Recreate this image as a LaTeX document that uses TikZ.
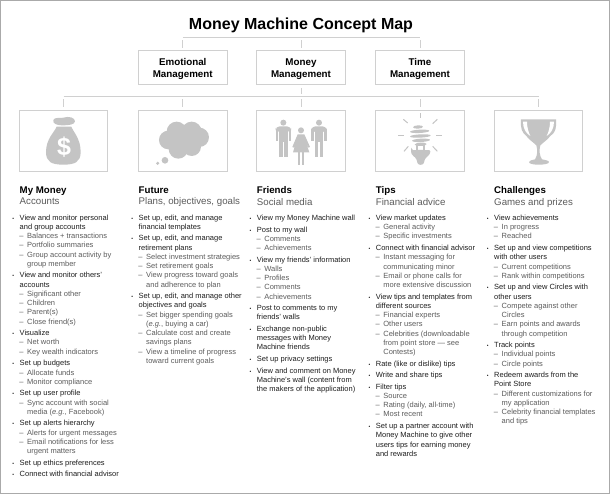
\documentclass[tikz,border=0pt]{standalone}
\usepackage{fontspec}
\setmainfont{Liberation Sans}
\definecolor{framegray}{RGB}{170,170,170}
\definecolor{linegray}{RGB}{208,208,208}
\definecolor{icongray}{RGB}{196,196,196}
\definecolor{subgray}{RGB}{92,92,92}
\definecolor{itemblack}{RGB}{30,30,30}
\usetikzlibrary{calc, positioning}

\newcommand{\heading}[2]{\fontsize{9.7}{11.3}\selectfont\textbf{#1}\\\color{subgray}#2\par\vspace{3.7pt}}
\newcommand{\mainline}[1]{\par\addvspace{2.3pt}\fontsize{7.5}{9.25}\selectfont\leftskip=0pt\color{itemblack}%
  \leavevmode\llap{{\fontsize{5}{5}\selectfont •}\hskip 5.5pt}#1\par}
\newcommand{\subline}[1]{\par\fontsize{7.5}{9.25}\selectfont\leftskip=7.5pt\color{subgray}%
  \leavevmode\llap{–\hskip 3.7pt}#1\par}

\tikzset{
  titlenode/.style={font=\fontsize{16}{19}\selectfont\bfseries, inner sep=0pt},
  topicbox/.style={draw=linegray, line width=1pt, fill=white, minimum width=88.5pt, minimum height=34pt,
    align=center, inner sep=0pt, text depth=0pt, font=\fontsize{9.8}{11.7}\selectfont\bfseries},
  iconbox/.style={draw=linegray, line width=1pt, fill=white, minimum width=88.5pt, minimum height=61pt, inner sep=0pt},
  column/.style={anchor=north west, inner sep=0pt, text width=112pt, align=flush left},
  bus/.style={draw=linegray, line width=1pt},
  stub/.style={draw=linegray, line width=1pt, shorten <=2.5pt, shorten >=2.5pt},
  iconzoom/.style={shift={#1}, x=0.3333pt, y=-0.3333pt},
  iconfill/.style={fill=icongray, draw=none},
  rayline/.style={draw=icongray, line width=1pt}
}

\begin{document}
\begin{tikzpicture}[x=1pt, y=-1pt]
  \useasboundingbox (0,0) rectangle (610,494);
  \fill[framegray] (0,0) rectangle (610,494);
  \fill[white] (1.3,1) rectangle (609.2,492.7);

  \node[titlenode] (title) at (301,25) {Money Machine Concept Map};

  \node[topicbox] (emotional) at (182.75,68) {Emotional\\Management};
  \node[topicbox] (money) at (301,68) {Money\\Management};
  \node[topicbox] (time) at (420,68) {Time\\Management};

  \node[iconbox] (mymoney) at (63.5,141) {};
  \node[iconbox] (future) at (182.75,141) {};
  \node[iconbox] (friends) at (301,141) {};
  \node[iconbox] (tips) at (420,141) {};
  \node[iconbox] (challenges) at (538.5,141) {};

  \coordinate (topbus) at (301,38);
  \coordinate (lowerbus) at (301,97);

  % connectors
  \draw[bus] (emotional.north |- topbus) -- (time.north |- topbus);
  \draw[bus] (mymoney.north |- lowerbus) -- (challenges.north |- lowerbus);
  \foreach \topic in {emotional, money, time}
    \draw[stub] (\topic.north |- topbus) -- (\topic.north);
  \draw[stub] (money.south) -- (money.south |- lowerbus);
  \foreach \topic in {mymoney, future, friends, tips, challenges}
    \draw[stub] (\topic.north |- lowerbus) -- (\topic.north);

  % money bag
  \begin{scope}[iconzoom={(30,112)}]
    \fill[iconfill] (70,24) .. controls (75,14) and (90,20) .. (100,17) .. controls (115,12) and (135,16) .. (135,28)
      .. controls (135,38) and (115,40) .. (100,40) .. controls (85,41) and (66,36) .. (70,24) -- cycle;
    \fill[iconfill] (80,44) -- (124,44) .. controls (130,60) and (152,80) .. (152,120)
      .. controls (152,150) and (135,158) .. (100,158) .. controls (65,158) and (48,150) .. (48,120)
      .. controls (48,80) and (74,60) .. (80,44) -- cycle;
    \node[text=white, font=\fontsize{25}{25}\selectfont\bfseries, inner sep=0pt] (dollar) at (102,104) {\$};
  \end{scope}

  % cloud
  \begin{scope}[iconzoom={(0,0)}]
    \foreach \cx/\cy/\rad in {530/395/30, 575/395/30, 505/420/28, 598/412/29, 535/447/29, 575/440/28, 550/420/30}
      \fill[iconfill] (\cx,\cy) circle (\rad);
    \fill[iconfill] (495,481) circle (10);
    \fill[iconfill] (473,490) circle (5);
  \end{scope}

  % people
  \begin{scope}[iconzoom={(265,112)}]
    \foreach \cx in {55,162} {
      \fill[iconfill] (\cx,32) circle (9);
      \fill[iconfill, rounded corners=4pt] (\cx-23,43) rectangle (\cx+23,60);
      \fill[iconfill] (\cx-23,50) rectangle (\cx-16,88);
      \fill[iconfill] (\cx+16,50) rectangle (\cx+23,88);
      \fill[iconfill] (\cx-13,50) rectangle (\cx+13,90);
      \fill[iconfill] (\cx-13,85) rectangle (\cx-2,135);
      \fill[iconfill] (\cx+2,85) rectangle (\cx+13,135);
    }
    \fill[iconfill] (108,55) circle (9);
    \fill[iconfill] (98,67) -- (118,67) -- (135,105) -- (130,107) -- (122,88) -- (133,121) -- (84,121) -- (94,88)
      -- (87,107) -- (82,105) -- cycle;
    \fill[iconfill] (98,118) rectangle (106,158);
    \fill[iconfill] (110,118) rectangle (118,158);
  \end{scope}

  % bulb
  \begin{scope}[iconzoom={(385,112)}]
    \draw[rayline] (107,4) -- (107,18);
    \draw[rayline] (55,22) -- (68,33);
    \draw[rayline] (157,22) -- (143,35);
    \draw[rayline] (40,72) -- (57,72);
    \draw[rayline] (153,72) -- (170,72);
    \draw[rayline] (57,118) -- (70,103);
    \draw[rayline] (157,118) -- (143,103);
    \foreach \cx/\cy/\rx in {99/45/15, 104/58/29, 106/72/31, 108/85/27, 107/97/18}
      \fill[iconfill, rotate around={3:(\cx,\cy)}] (\cx,\cy) ellipse (\rx*1 and 5);
    \fill[iconfill] (94,100) rectangle (100,118);
    \fill[iconfill] (113,100) rectangle (119,118);
    \fill[iconfill, rounded corners=2pt] (78,113) -- (92,116) -- (106,112) -- (122,116) -- (136,113)
      .. controls (136,130) and (122,135) .. (118,148) .. controls (114,160) and (100,160) .. (96,148)
      .. controls (92,135) and (78,130) .. (78,113) -- cycle;
  \end{scope}

  % trophy
  \begin{scope}[iconzoom={(502,112)}]
    \fill[iconfill] (57,22) -- (162,22) .. controls (164,50) and (160,62) .. (145,72)
      .. controls (135,85) and (125,90) .. (115,100) .. controls (111,115) and (112,130) .. (120,142)
      .. controls (130,144) and (141,146) .. (141,150) .. controls (141,156) and (125,158) .. (110,158)
      .. controls (95,158) and (81,156) .. (81,150) .. controls (81,146) and (90,144) .. (99,142)
      .. controls (107,130) and (107,115) .. (103,100) .. controls (93,90) and (83,85) .. (73,72)
      .. controls (60,62) and (55,50) .. (57,22) -- cycle;
    \fill[white] (63,29) -- (75,29) .. controls (75,45) and (79,60) .. (85,72)
      .. controls (72,64) and (63,50) .. (63,29) -- cycle;
    \fill[white] (156,29) -- (144,29) .. controls (144,45) and (140,60) .. (134,72)
      .. controls (147,64) and (156,50) .. (156,29) -- cycle;
  \end{scope}

  \node[column] (moneycol) at (19.5,186.7) {\heading{My Money}{Accounts}
    \mainline{View and monitor personal\\and group accounts}
    \subline{Balances + transactions}
    \subline{Portfolio summaries}
    \subline{Group account activity by\\group member}
    \mainline{View and monitor others’\\accounts}
    \subline{Significant other}
    \subline{Children}
    \subline{Parent(s)}
    \subline{Close friend(s)}
    \mainline{Visualize}
    \subline{Net worth}
    \subline{Key wealth indicators}
    \mainline{Set up budgets}
    \subline{Allocate funds}
    \subline{Monitor compliance}
    \mainline{Set up user profile}
    \subline{Sync account with social\\media (\emph{e.g.}, Facebook)}
    \mainline{Set up alerts hierarchy}
    \subline{Alerts for urgent messages}
    \subline{Email notifications for less\\urgent matters}
    \mainline{Set up ethics preferences}
    \mainline{Connect with financial advisor}};

  \node[column] (futurecol) at (138.5,186.7) {\heading{Future}{Plans, objectives, goals}
    \mainline{Set up, edit, and manage\\financial templates}
    \mainline{Set up, edit, and manage\\retirement plans}
    \subline{Select investment strategies}
    \subline{Set retirement goals}
    \subline{View progress toward goals\\and adherence to plan}
    \mainline{Set up, edit, and manage other\\objectives and goals}
    \subline{Set bigger spending goals\\(\emph{e.g.}, buying a car)}
    \subline{Calculate cost and create\\savings plans}
    \subline{View a timeline of progress\\toward current goals}};

  \node[column] (friendscol) at (256.7,186.7) {\heading{Friends}{Social media}
    \mainline{View my Money Machine wall}
    \mainline{Post to my wall}
    \subline{Comments}
    \subline{Achievements}
    \mainline{View my friends’ information}
    \subline{Walls}
    \subline{Profiles}
    \subline{Comments}
    \subline{Achievements}
    \mainline{Post to comments to my\\friends’ walls}
    \mainline{Exchange non-public\\messages with Money\\Machine friends}
    \mainline{Set up privacy settings}
    \mainline{View and comment on Money\\Machine’s wall (content from\\the makers of the application)}};

  \node[column] (tipscol) at (375.7,186.7) {\heading{Tips}{Financial advice}
    \mainline{View market updates}
    \subline{General activity}
    \subline{Specific investments}
    \mainline{Connect with financial advisor}
    \subline{Instant messaging for\\communicating minor}
    \subline{Email or phone calls for\\more extensive discussion}
    \mainline{View tips and templates from\\different sources}
    \subline{Financial experts}
    \subline{Other users}
    \subline{Celebrities (downloadable\\from point store — see\\Contests)}
    \mainline{Rate (like or dislike) tips}
    \mainline{Write and share tips}
    \mainline{Filter tips}
    \subline{Source}
    \subline{Rating (daily, all-time)}
    \subline{Most recent}
    \mainline{Set up a partner account with\\Money Machine to give other\\users tips for earning money\\and rewards}};

  \node[column] (challengescol) at (494,186.7) {\heading{Challenges}{Games and prizes}
    \mainline{View achievements}
    \subline{In progress}
    \subline{Reached}
    \mainline{Set up and view competitions\\with other users}
    \subline{Current competitions}
    \subline{Rank within competitions}
    \mainline{Set up and view Circles with\\other users}
    \subline{Compete against other\\Circles}
    \subline{Earn points and awards\\through competition}
    \mainline{Track points}
    \subline{Individual points}
    \subline{Circle points}
    \mainline{Redeem awards from the\\Point Store}
    \subline{Different customizations for\\my application}
    \subline{Celebrity financial templates\\and tips}};
\end{tikzpicture}
\end{document}
